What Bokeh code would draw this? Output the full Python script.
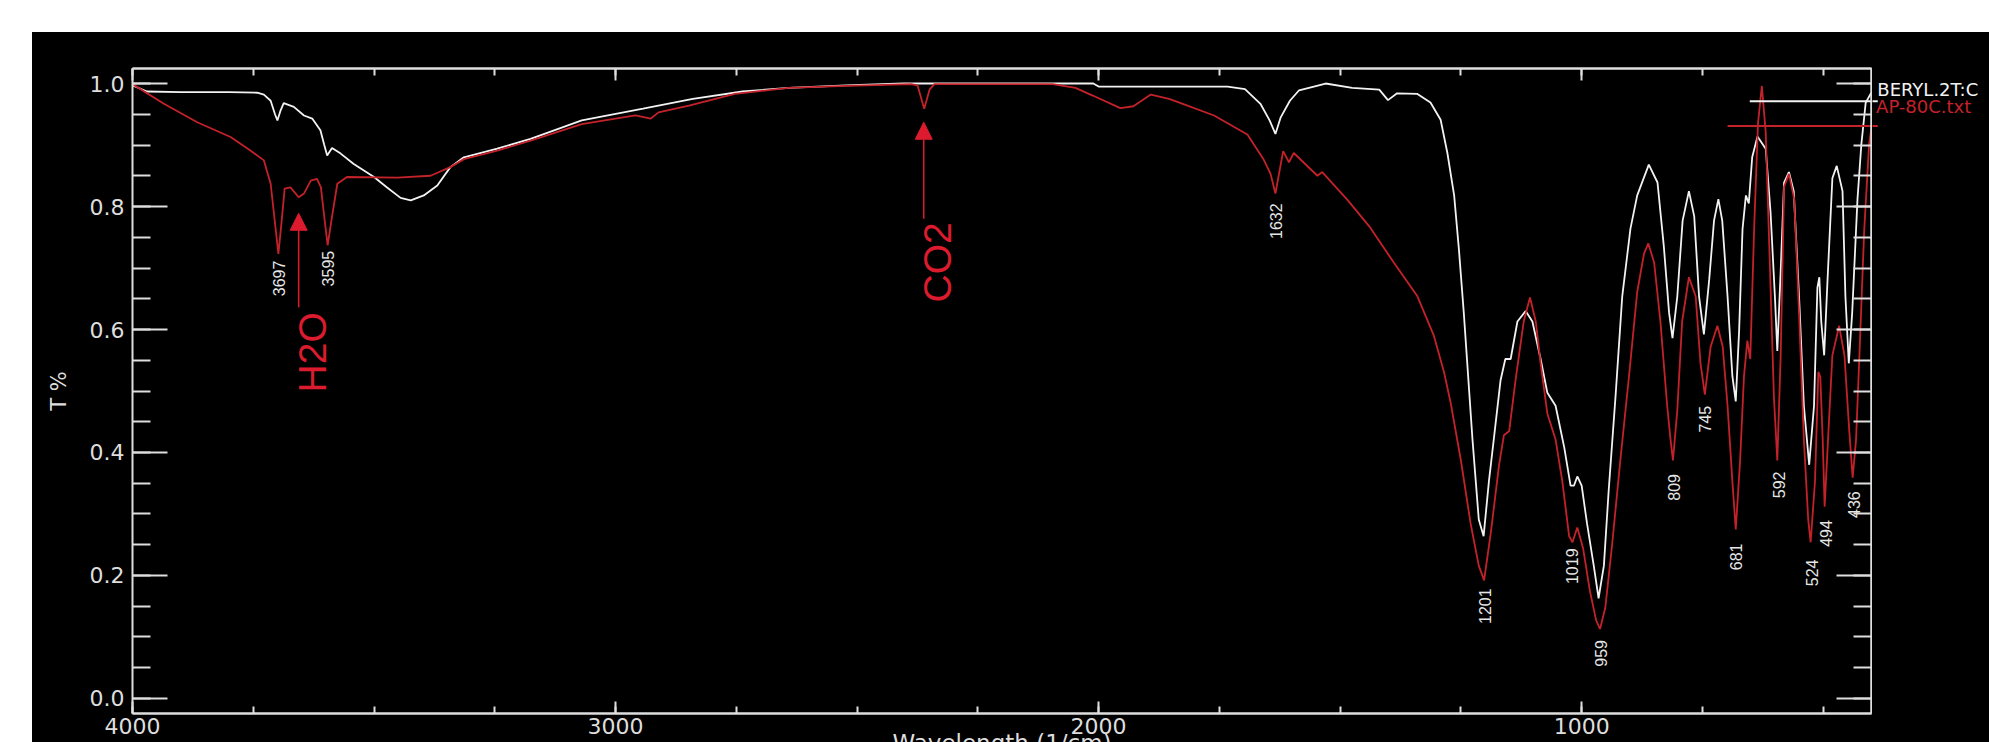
import math
from bokeh.plotting import figure
from bokeh.models import (Range1d, LinearAxis, SingleIntervalTicker, FixedTicker, Arrow,
                          NormalHead, Spacer, PrintfTickFormatter)
from bokeh.layouts import column, row
from bokeh.core.properties import value
from bokeh.embed import file_html
from bokeh.resources import INLINE

# ---------------- data ----------------
beryl_wn = [4000, 3970, 3900, 3800, 3742, 3728, 3714, 3705, 3700, 3694, 3687, 3666, 3645, 3628,
            3611, 3603, 3597, 3587, 3569, 3542, 3500, 3473, 3445, 3424, 3397, 3369, 3342, 3314,
            3245, 3176, 3070, 2943, 2840, 2737, 2642, 2523, 2404, 2200, 2011, 2000, 1733, 1697,
            1665, 1646, 1634, 1623, 1604, 1585, 1530, 1475, 1419, 1401, 1382, 1340, 1313, 1292,
            1278, 1264, 1254, 1244, 1226, 1213, 1203, 1192, 1182, 1168, 1158, 1147, 1133, 1116,
            1102, 1085, 1071, 1054, 1036, 1023, 1016, 1009, 1000, 989, 975, 965, 954, 944, 930,
            916, 899, 885, 861, 843, 830, 819, 812, 802, 791, 778, 767, 757, 747, 736, 726, 717,
            709, 698, 688, 681, 674, 667, 660, 654, 647, 636, 619, 609, 600, 595, 588, 581, 571,
            561, 550, 540, 529, 519, 512, 508, 504, 498, 491, 481, 472, 460, 454, 447, 440, 429,
            421, 412, 402, 400]
beryl_t = [0.997, 0.987, 0.986, 0.986, 0.985, 0.982, 0.972, 0.950, 0.940, 0.955, 0.968, 0.962,
           0.948, 0.943, 0.924, 0.900, 0.883, 0.895, 0.886, 0.869, 0.848, 0.831, 0.814, 0.810,
           0.818, 0.834, 0.864, 0.880, 0.894, 0.910, 0.940, 0.959, 0.975, 0.987, 0.993, 0.997,
           1.000, 1.000, 1.000, 0.995, 0.995, 0.991, 0.967, 0.940, 0.918, 0.945, 0.972, 0.989,
           1.000, 0.993, 0.990, 0.973, 0.984, 0.983, 0.969, 0.941, 0.887, 0.818, 0.729, 0.627,
           0.421, 0.291, 0.264, 0.353, 0.421, 0.517, 0.552, 0.552, 0.613, 0.630, 0.613, 0.552,
           0.497, 0.476, 0.408, 0.346, 0.346, 0.361, 0.346, 0.285, 0.216, 0.163, 0.216, 0.339,
           0.490, 0.654, 0.764, 0.818, 0.868, 0.839, 0.736, 0.627, 0.586, 0.654, 0.777, 0.825,
           0.784, 0.654, 0.592, 0.681, 0.777, 0.812, 0.777, 0.654, 0.524, 0.483, 0.599, 0.763,
           0.818, 0.805, 0.880, 0.914, 0.894, 0.791, 0.654, 0.565, 0.695, 0.839, 0.856, 0.825,
           0.654, 0.476, 0.380, 0.476, 0.668, 0.685, 0.613, 0.558, 0.681, 0.846, 0.866, 0.825,
           0.654, 0.545, 0.627, 0.812, 0.901, 0.969, 0.983, 0.985]

ap_wn = [4000, 3935, 3866, 3797, 3756, 3728, 3714, 3704, 3698, 3692, 3685, 3673, 3656, 3645,
         3631, 3618, 3610, 3604, 3596, 3587, 3576, 3556, 3452, 3383, 3342, 3314, 3245, 3176,
         3070, 2959, 2927, 2911, 2848, 2753, 2642, 2523, 2388, 2375, 2361, 2350, 2340, 2095,
         2048, 2011, 1955, 1928, 1892, 1854, 1823, 1761, 1692, 1658, 1644, 1634, 1618, 1606,
         1596, 1547, 1537, 1484, 1438, 1389, 1340, 1306, 1285, 1271, 1250, 1230, 1213, 1202,
         1188, 1171, 1161, 1150, 1137, 1120, 1107, 1095, 1085, 1071, 1054, 1040, 1026, 1019,
         1009, 997, 983, 970, 962, 951, 937, 920, 902, 885, 871, 862, 850, 837, 823, 816, 811,
         802, 792, 778, 764, 754, 745, 733, 719, 708, 698, 688, 681, 672, 664, 657, 651, 643,
         635, 627, 619, 610, 602, 595, 588, 581, 571, 560, 550, 540, 531, 526, 517, 510, 506,
         501, 497, 490, 481, 467, 456, 446, 439, 432, 425, 415, 405, 400]
ap_t = [0.999, 0.967, 0.937, 0.913, 0.891, 0.875, 0.837, 0.766, 0.723, 0.770, 0.829, 0.831,
        0.815, 0.821, 0.842, 0.845, 0.831, 0.790, 0.737, 0.783, 0.837, 0.848, 0.847, 0.850,
        0.864, 0.877, 0.891, 0.907, 0.934, 0.948, 0.943, 0.953, 0.964, 0.983, 0.993, 0.996,
        0.999, 0.997, 0.959, 0.990, 0.999, 0.999, 0.993, 0.980, 0.960, 0.963, 0.982, 0.975,
        0.966, 0.948, 0.917, 0.876, 0.853, 0.821, 0.890, 0.872, 0.887, 0.850, 0.856, 0.810,
        0.766, 0.709, 0.654, 0.590, 0.531, 0.480, 0.387, 0.285, 0.216, 0.192, 0.270, 0.380,
        0.428, 0.435, 0.517, 0.613, 0.652, 0.613, 0.545, 0.463, 0.421, 0.353, 0.264, 0.254,
        0.278, 0.244, 0.175, 0.127, 0.113, 0.148, 0.250, 0.387, 0.524, 0.661, 0.723, 0.740,
        0.709, 0.613, 0.476, 0.421, 0.387, 0.469, 0.613, 0.685, 0.654, 0.545, 0.494, 0.572,
        0.606, 0.572, 0.476, 0.353, 0.275, 0.387, 0.524, 0.582, 0.552, 0.763, 0.935, 0.996,
        0.921, 0.695, 0.490, 0.387, 0.558, 0.832, 0.853, 0.812, 0.627, 0.421, 0.291, 0.254,
        0.353, 0.531, 0.523, 0.421, 0.312, 0.421, 0.558, 0.606, 0.558, 0.435, 0.359, 0.421,
        0.558, 0.763, 0.901, 0.929]

peak_wn = [3697, 3595, 1632, 1201, 1019, 959, 809, 745, 681, 592, 524, 494, 436]
peak_label_t = [0.712, 0.728, 0.805, 0.179, 0.244, 0.095, 0.365, 0.476, 0.252, 0.369, 0.226,
                0.290, 0.337]
peak_labels = [str(v) for v in peak_wn]

x_tick_values = [4000, 3000, 2000, 1000]
x_tick_labels = ["4000", "3000", "2000", "1000"]
x_minor_values = list(range(500, 4001, 250))
y_major_values = [0.0, 0.2, 0.4, 0.6, 0.8, 1.0]
y_minor_values = [round(0.05 * i, 2) for i in range(21)]

series_names = ["BERYL.2T:C", "AP-80C.txt"]
notes = ["H2O", "CO2"]
note_wn = [3656, 2362]

# ---------------- geometry / styling ----------------
WHITE = "#f2f2f2"
AXIS = "#dedede"
RED_LINE = "#c4222a"
RED_NOTE = "#dc1c2e"
TICK_FONT = "DejaVu Sans"

X0, X1 = 4000, 400
Y0, Y1 = -0.0244, 1.0244
FW, FH = 1739, 645
BL, BR, BT, BB = 100, 1, 36, 2
PAGE_W, PAGE_H, OFF = 1989, 742, 32
ux = FW / (X0 - X1)
uy = FH / (Y1 - Y0)
PW, PH = BL + FW + BR, BT + FH + BB
BOT_H = PAGE_H - OFF - PH
RIGHT_W = PAGE_W - OFF - PW
PAPER = {"background-color": "white"}


def blank(fig):
    fig.grid.visible = False
    fig.axis.visible = False


p = figure(width=PW, height=PH, x_range=Range1d(X0, X1), y_range=Range1d(Y0, Y1),
           output_backend="svg", toolbar_location=None,
           min_border_left=BL, min_border_right=BR, min_border_top=BT, min_border_bottom=BB,
           background_fill_color="black", border_fill_color="black", outline_line_color=None)
p.grid.visible = False


def style_axis(ax, tin, tmin):
    ax.axis_line_color = AXIS
    ax.axis_line_width = 2
    ax.major_tick_line_color = AXIS
    ax.minor_tick_line_color = AXIS
    ax.major_tick_line_width = 2
    ax.minor_tick_line_width = 2
    ax.major_tick_in = tin
    ax.major_tick_out = 0
    ax.minor_tick_in = tmin
    ax.minor_tick_out = 0
    ax.major_label_standoff = 0


# left axis with labels
ya = p.yaxis[0]
ya.ticker = SingleIntervalTicker(interval=0.2, num_minor_ticks=4)
style_axis(ya, 35, 18)
ya.formatter = PrintfTickFormatter(format="%.1f")
ya.major_label_text_font = TICK_FONT
ya.major_label_text_font_size = "22px"
ya.major_label_text_color = AXIS
ya.major_label_standoff = 8
ya.axis_label = "T %"
ya.axis_label_text_font = TICK_FONT
ya.axis_label_text_font_style = "normal"
ya.axis_label_text_font_size = "21px"
ya.axis_label_text_color = AXIS
ya.axis_label_standoff = 16

# bottom / top / right: tick marks only (labels live in the strip figures)
xa = p.xaxis[0]
xa.ticker = FixedTicker(ticks=[], minor_ticks=x_tick_values)
style_axis(xa, 12, 12)
xb = LinearAxis(ticker=FixedTicker(ticks=[], minor_ticks=x_minor_values))
style_axis(xb, 7, 7)
p.add_layout(xb, "below")
for tk, ln in ((x_tick_values, 12), (x_minor_values, 7)):
    ax = LinearAxis(ticker=FixedTicker(ticks=[], minor_ticks=tk))
    style_axis(ax, ln, ln)
    p.add_layout(ax, "above")
for tk, ln in ((y_major_values, 35), (y_minor_values, 18)):
    ax = LinearAxis(ticker=FixedTicker(ticks=[], minor_ticks=tk))
    style_axis(ax, ln, ln)
    p.add_layout(ax, "right")

# spectra
p.line(beryl_wn, beryl_t, line_color=WHITE, line_width=1.8)
p.line(ap_wn, ap_t, line_color=RED_LINE, line_width=1.8)

# peak labels
p.text(x=peak_wn, y=peak_label_t, text=peak_labels, angle=math.pi / 2,
       text_align="right", text_baseline="middle", text_color="#e6e6e6",
       text_font=value("Liberation Sans"), text_font_size="16px")

# annotations H2O / CO2
p.text(x=[3627, 2333], y=[0.4976, 0.644], text=notes, angle=math.pi / 2,
       text_align="left", text_baseline="alphabetic", text_color=RED_NOTE,
       text_font=value("Liberation Sans"), text_font_size="39px")
for xw, (y0, y1) in zip(note_wn, [(0.636, 0.789), (0.780, 0.937)]):
    p.add_layout(Arrow(end=NormalHead(size=17, fill_color=RED_NOTE, line_color=RED_NOTE),
                       x_start=xw, y_start=y0, x_end=xw, y_end=y1,
                       line_color=RED_NOTE, line_width=1.5))

# legend sample lines (start inside the frame)
p.segment(x0=[652, 698], y0=[0.971, 0.931], x1=[380, 380], y1=[0.971, 0.931],
          line_color=[WHITE, RED_LINE], line_width=2)

# ---- right strip: legend texts, same x/y scale (frame aligned with p) ----
pr = figure(width=RIGHT_W, height=PH,
            x_range=Range1d(X1 - BR / ux, X1 - (BR + RIGHT_W) / ux),
            y_range=Range1d(Y0, Y1),
            output_backend="svg", toolbar_location=None,
            min_border_left=0, min_border_right=0, min_border_top=BT, min_border_bottom=BB,
            background_fill_color="black", border_fill_color="black", outline_line_color=None)
blank(pr)
pr.segment(x0=[X1 - BR / ux + 2] * 2, y0=[0.971, 0.931], x1=[387, 387], y1=[0.971, 0.931],
           line_color=[WHITE, RED_LINE], line_width=2)
pr.text(x=[388, 390.5], y=[0.990, 0.962], text=series_names, text_align="left",
        text_baseline="middle", text_color=[WHITE, RED_LINE],
        text_font=value(TICK_FONT), text_font_size="18px")

# ---- bottom strip: x tick labels and x title, same x scale ----
BW = PAGE_W - OFF
pb = figure(width=BW, height=BOT_H,
            x_range=Range1d(X0 + BL / ux, X0 + BL / ux - BW / ux),
            y_range=Range1d(Y0 - (BB + BOT_H) / uy, Y0 - BB / uy),
            output_backend="svg", toolbar_location=None, min_border=0,
            background_fill_color="black", border_fill_color="black", outline_line_color=None)
blank(pb)
pb.text(x=x_tick_values, y=[-0.0325] * len(x_tick_values), text=x_tick_labels,
        text_align="center", text_baseline="top", text_color=AXIS,
        text_font=value(TICK_FONT), text_font_size="22px")
pb.text(x=[2200], y=[-0.052], text=["Wavelength (1/cm)"], text_align="center",
        text_baseline="top", text_color=AXIS, text_font=value(TICK_FONT),
        text_font_size="23px")

layout = column(Spacer(height=OFF, width=PAGE_W, styles=PAPER),
                row(Spacer(width=OFF, height=PH, styles=PAPER), p, pr),
                row(Spacer(width=OFF, height=BOT_H, styles=PAPER), pb),
                styles={"background-color": "black"})

open("out.html", "w").write(file_html(layout, INLINE))
